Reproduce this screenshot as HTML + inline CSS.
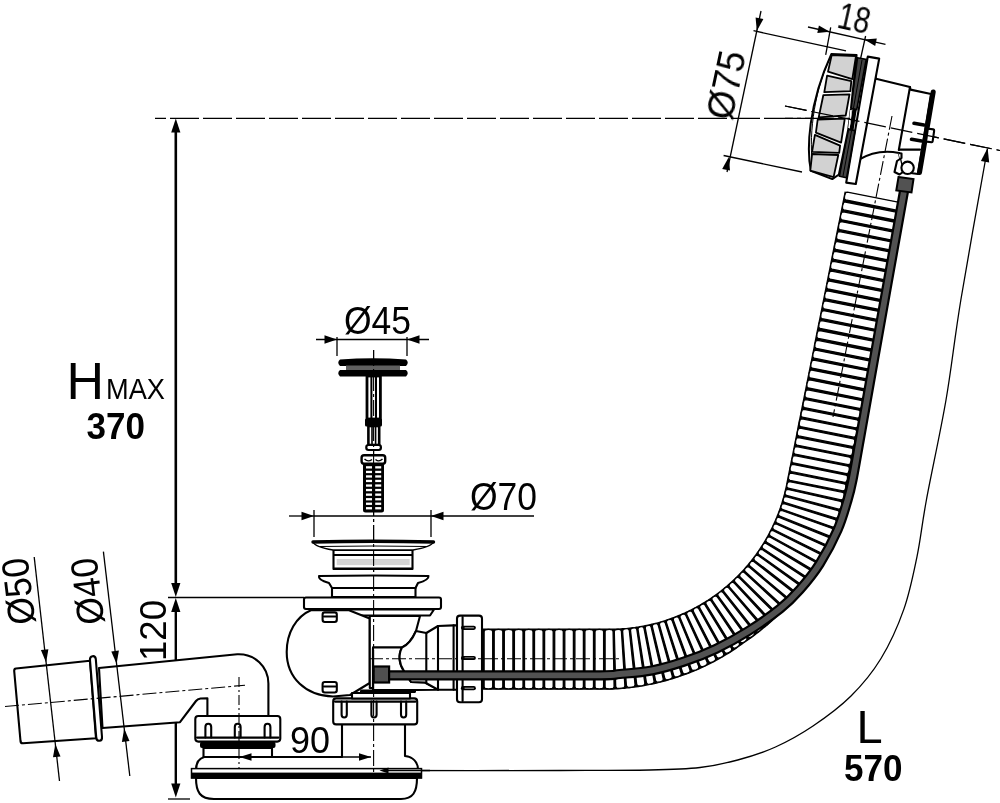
<!DOCTYPE html>
<html><head><meta charset="utf-8"><title>drawing</title>
<style>
html,body{margin:0;padding:0;background:#fff;}
body{width:1000px;height:803px;overflow:hidden;}
svg{display:block}
text{font-family:"Liberation Sans",sans-serif;fill:#000}
.t{stroke:#000;stroke-width:1.3;fill:none}
.m{stroke:#000;stroke-width:2.1;fill:none;stroke-linejoin:round;stroke-linecap:round}
.w{stroke:#000;stroke-width:2.1;fill:#fff;stroke-linejoin:round}
.k{stroke:#000;stroke-width:2.4;fill:none;stroke-linejoin:round;stroke-linecap:round}
</style></head><body>
<svg width="1000" height="803" viewBox="0 0 1000 803">
<rect width="1000" height="803" fill="#fff"/>

<g id="dims">
<line x1="175.8" y1="124" x2="175.8" y2="590" stroke="#000" stroke-width="2.6"/>
<polygon points="175.8,118.5 180.4,132.5 171.2,132.5" fill="#000"/>
<polygon points="175.8,597.0 171.2,583.0 180.4,583.0" fill="#000"/>
<line x1="175.8" y1="605" x2="175.8" y2="790" stroke="#000" stroke-width="2.4"/>
<polygon points="175.8,598.0 180.4,612.0 171.2,612.0" fill="#000"/>
<polygon points="175.8,797.5 171.2,783.5 180.4,783.5" fill="#000"/>
<line class="t" x1="168" y1="597.5" x2="304" y2="597.5"/>
<line class="t" x1="168" y1="799" x2="190" y2="799"/>
<line x1="155" y1="118.3" x2="850" y2="118.3" stroke="#000" stroke-width="1.2" stroke-dasharray="29 4" stroke-dashoffset="18"/>
<line x1="785" y1="106" x2="1000" y2="150.5" stroke="#000" stroke-width="1.2" stroke-dasharray="22 5"/>
<line class="t" x1="761" y1="11" x2="727" y2="172"/>
<polygon points="756.8,31.0 755.6,17.5 763.4,19.1" fill="#000"/>
<polygon points="728.8,157.0 730.0,170.5 722.2,168.9" fill="#000"/>
<line class="t" x1="753.5" y1="30.7" x2="846" y2="50.8"/>
<line class="t" x1="723.6" y1="155.5" x2="802" y2="172"/>
<line class="t" x1="808" y1="27" x2="885.5" y2="44.3"/>
<line class="t" x1="830.7" y1="27.4" x2="825.7" y2="54.8"/>
<line class="t" x1="865.6" y1="36" x2="860.6" y2="58.5"/>
<polygon points="829.8,31.8 817.3,32.9 818.9,25.5" fill="#000"/>
<polygon points="864.3,39.6 876.8,38.5 875.2,45.9" fill="#000"/>
<line class="t" x1="316" y1="339.5" x2="429" y2="339.5"/>
<line class="t" x1="337" y1="337" x2="337" y2="356"/><line class="t" x1="407" y1="337" x2="407" y2="356"/>
<polygon points="337.0,339.5 324.5,343.8 324.5,335.2" fill="#000"/>
<polygon points="407.0,339.5 419.5,335.2 419.5,343.8" fill="#000"/>
<line class="t" x1="289" y1="516" x2="314" y2="516"/><line class="t" x1="431" y1="516" x2="534" y2="516"/><line class="t" x1="314" y1="516" x2="431" y2="516"/>
<line class="t" x1="314" y1="510" x2="314" y2="537"/><line class="t" x1="431" y1="510" x2="431" y2="537"/>
<polygon points="314.0,516.0 301.5,520.3 301.5,511.7" fill="#000"/>
<polygon points="431.0,516.0 443.5,511.7 443.5,520.3" fill="#000"/>
<line x1="373.6" y1="350" x2="373.6" y2="776" stroke="#000" stroke-width="1.1" stroke-dasharray="16 3 3 3"/>
<path class="t" d="M987.4,149.0 C983.0,174.0 967.9,257.2 961.0,299.0 C954.1,340.8 951.8,366.5 946.0,400.0 C940.2,433.5 931.2,473.9 926.4,500.0 C921.6,526.1 920.8,538.4 917.0,556.6 C913.2,574.8 909.8,592.4 903.8,609.4 C897.8,626.4 889.8,644.1 881.0,658.5 C872.2,672.9 862.3,684.8 851.0,696.0 C839.7,707.2 825.6,717.5 813.0,726.0 C800.4,734.5 788.0,741.3 775.5,747.0 C763.0,752.7 750.3,756.6 737.7,760.0 C725.1,763.4 714.6,765.8 700.0,767.5 C685.4,769.2 673.3,769.5 650.0,770.0 C626.7,770.5 605.5,770.4 560.0,770.5 C514.5,770.6 407.5,770.5 377.0,770.5"/>
<polygon points="987.6,148.0 989.2,162.5 980.9,161.0" fill="#000"/>
</g>
<g id="pipe">
<path class="w" d="M16,668.5 Q14,668.7 14.2,671 L20.5,741 Q20.8,743.5 23,743.3 L96,738.3 L90,660.8 Z" stroke-width="2.2"/>
<path class="w" d="M99,668 L237.2,654.3 C254.5,653.5 268.4,666.5 268.4,683.5 L268.4,716 L207.4,716 L207.4,698.2 L200.5,698.5 Q197.5,699 196,701 L180,722.2 L102.5,728 Z" stroke-width="2.2"/>
<path class="w" d="M92.5,656.2 Q95.3,655.8 95.8,659 L102,737 Q102.3,740.5 99.5,740.8 Q96.7,741 96.3,738 L90,660 Q89.7,656.6 92.5,656.2 Z" stroke-width="1.8"/>
<line x1="5" y1="706.5" x2="245" y2="685.2" stroke="#000" stroke-width="1.1" stroke-dasharray="14 3 3 3"/>
</g>
<g id="base">
<path class="w" d="M196,778 C196,792 200,799 214,799 L401,799 C413,799 417,792 417,778 Z" stroke-width="1.8"/>
<path class="w" d="M196,770 C196,762 199,757 208,756.5 L272,756.5 L272,757 L342,757 L342,724 L405,724 L405,756 C413,757 418,762 418,770 Z"/>
<rect x="191.5" y="768.6" width="230" height="9.4" fill="#fff" stroke="#000" stroke-width="1.5"/>
<rect x="191" y="772.6" width="231" height="5.8" fill="#000"/>
<path class="w" d="M203.5,748 L272,748 L272,757 L203.5,757 Z"/>
<rect x="200" y="741.8" width="75.5" height="6.2" rx="2" fill="#000"/>
<rect class="w" x="195.3" y="716" width="85" height="25.6" rx="3" stroke-width="2.4"/>
<path class="m" d="M205.4,737.5 L205.4,727 Q205.4,723.8 208.3,723.8 Q211.20000000000002,723.8 211.20000000000002,727 L211.20000000000002,737.5"/>
<path class="m" d="M234.8,737.5 L234.8,727 Q234.8,723.8 237.70000000000002,723.8 Q240.60000000000002,723.8 240.60000000000002,727 L240.60000000000002,737.5"/>
<path class="m" d="M264.6,737.5 L264.6,727 Q264.6,723.8 267.5,723.8 Q270.40000000000003,723.8 270.40000000000003,727 L270.40000000000003,737.5"/>
<line class="m" x1="197" y1="737.6" x2="278.5" y2="737.6" stroke-width="1.6"/>
<rect class="w" x="333.2" y="698.4" width="84" height="26" rx="3" stroke-width="2.4"/>
<path class="m" d="M341.6,701.5 L341.6,714.5 Q341.6,717.5 344.20000000000005,717.5 Q346.8,717.5 346.8,714.5 L346.8,701.5"/>
<path class="m" d="M371.4,701.5 L371.4,714.5 Q371.4,717.5 374.0,717.5 Q376.59999999999997,717.5 376.59999999999997,714.5 L376.59999999999997,701.5"/>
<path class="m" d="M401,701.5 L401,714.5 Q401,717.5 403.6,717.5 Q406.2,717.5 406.2,714.5 L406.2,701.5"/>
<line class="m" x1="335" y1="701.6" x2="415.5" y2="701.6" stroke-width="1.6"/>
</g>
<g id="hose">
<polygon points="472.6,628.6 474.7,628.6 476.7,628.6 478.7,628.6 480.8,628.6 482.8,628.6 484.8,628.6 486.9,628.6 488.9,628.6 490.9,628.6 492.9,628.6 495.0,628.6 497.0,628.6 499.0,628.6 501.1,628.6 503.1,628.6 505.1,628.6 507.1,628.6 509.2,628.6 511.2,628.6 513.2,628.6 515.3,628.6 517.3,628.6 519.3,628.6 521.4,628.6 523.4,628.6 525.4,628.6 527.4,628.6 529.5,628.6 531.5,628.6 533.5,628.6 535.6,628.6 537.6,628.6 539.6,628.6 541.6,628.6 543.7,628.6 545.7,628.6 547.7,628.6 549.8,628.6 551.8,628.6 553.8,628.6 555.9,628.6 557.9,628.6 559.9,628.6 561.9,628.6 564.0,628.6 566.0,628.6 568.0,628.6 570.1,628.6 572.1,628.6 574.1,628.6 576.1,628.6 578.2,628.6 580.2,628.6 582.2,628.6 584.3,628.6 586.3,628.6 588.3,628.6 590.3,628.6 592.4,628.6 594.4,628.6 596.4,628.6 598.5,628.6 600.5,628.6 602.5,628.6 604.6,628.6 606.6,628.6 608.6,628.6 610.5,628.6 612.3,628.6 614.0,628.6 615.7,628.5 617.5,628.4 619.2,628.4 620.9,628.3 622.6,628.1 624.4,628.0 626.1,627.9 627.8,627.7 629.6,627.5 631.3,627.3 633.0,627.1 634.7,626.9 636.4,626.6 638.1,626.4 639.9,626.1 641.6,625.8 643.3,625.5 645.0,625.1 646.7,624.8 648.4,624.4 650.1,624.0 651.7,623.6 653.4,623.2 655.1,622.8 656.8,622.4 658.5,621.9 660.1,621.4 661.8,620.9 663.4,620.4 665.1,619.9 666.7,619.3 668.4,618.8 670.0,618.2 671.7,617.6 673.3,617.0 674.9,616.4 676.5,615.8 678.1,615.1 679.7,614.4 681.3,613.8 682.9,613.1 684.5,612.4 686.1,611.6 687.6,610.9 689.2,610.1 690.7,609.4 692.3,608.6 693.8,607.8 695.4,606.9 696.9,606.1 698.4,605.3 699.9,604.4 701.4,603.5 702.9,602.6 704.4,601.7 705.8,600.8 707.3,599.9 708.7,598.9 710.2,598.0 711.6,597.0 713.0,596.0 714.5,595.0 715.9,594.0 717.3,593.0 718.6,591.9 720.0,590.9 721.4,589.8 722.7,588.7 724.1,587.6 725.4,586.5 726.7,585.4 728.0,584.2 729.4,583.1 730.6,581.9 731.9,580.8 733.2,579.6 734.4,578.4 735.7,577.2 736.9,576.0 738.1,574.7 739.3,573.5 740.5,572.2 741.7,571.0 742.9,569.7 744.1,568.4 745.2,567.1 746.3,565.8 747.5,564.5 748.6,563.1 749.7,561.8 750.8,560.4 751.8,559.1 752.9,557.7 753.9,556.3 755.0,554.9 756.0,553.5 757.0,552.1 758.0,550.7 758.9,549.2 759.9,547.8 760.8,546.3 761.8,544.9 762.7,543.4 763.6,541.9 764.5,540.4 765.4,538.9 766.2,537.4 767.1,535.9 767.9,534.4 768.7,532.9 769.5,531.3 770.3,529.8 771.1,528.2 771.9,526.7 772.6,525.1 773.3,523.5 774.0,522.0 774.7,520.4 775.4,518.8 776.1,517.2 776.7,515.6 777.4,514.0 778.0,512.3 778.6,510.7 779.2,509.1 779.8,507.4 780.3,505.8 780.9,504.2 781.4,502.5 781.9,500.8 782.4,499.2 782.9,497.5 783.3,495.8 783.8,494.2 784.2,492.5 784.6,490.8 785.0,489.1 785.4,487.4 785.8,485.7 786.1,484.0 786.5,482.0 786.9,480.0 787.3,478.1 787.7,476.1 788.1,474.1 788.5,472.1 788.9,470.1 789.3,468.1 789.7,466.1 790.1,464.1 790.5,462.1 790.9,460.1 791.3,458.2 791.7,456.2 792.1,454.2 792.5,452.2 792.9,450.2 793.3,448.2 793.7,446.2 794.1,444.2 794.5,442.2 794.9,440.2 795.3,438.3 795.7,436.3 796.1,434.3 796.5,432.3 796.9,430.3 797.2,428.3 797.6,426.3 798.0,424.3 798.4,422.3 798.8,420.3 799.2,418.4 799.6,416.4 800.0,414.4 800.4,412.4 800.8,410.4 801.2,408.4 801.6,406.4 802.0,404.4 802.4,402.4 802.8,400.5 803.2,398.5 803.6,396.5 804.0,394.5 804.4,392.5 804.8,390.5 805.2,388.5 805.6,386.5 806.0,384.5 806.4,382.5 806.8,380.6 807.2,378.6 807.6,376.6 808.0,374.6 808.4,372.6 808.8,370.6 809.2,368.6 809.6,366.6 810.0,364.6 810.4,362.6 810.8,360.7 811.2,358.7 811.6,356.7 812.0,354.7 812.4,352.7 812.8,350.7 813.2,348.7 813.6,346.7 813.9,344.7 814.3,342.7 814.7,340.8 815.1,338.8 815.5,336.8 815.9,334.8 816.3,332.8 816.7,330.8 817.1,328.8 817.5,326.8 817.9,324.8 818.3,322.8 818.7,320.9 819.1,318.9 819.5,316.9 819.9,314.9 820.3,312.9 820.7,310.9 821.1,308.9 821.5,306.9 821.9,304.9 822.3,302.9 822.7,301.0 823.1,299.0 823.5,297.0 823.9,295.0 824.3,293.0 824.7,291.0 825.1,289.0 825.5,287.0 825.9,285.0 826.3,283.0 826.7,281.1 827.1,279.1 827.5,277.1 827.9,275.1 828.3,273.1 828.7,271.1 829.1,269.1 829.5,267.1 829.9,265.1 830.3,263.1 830.6,261.2 831.0,259.2 831.4,257.2 831.8,255.2 832.2,253.2 832.6,251.2 833.0,249.2 833.4,247.2 833.8,245.2 834.2,243.2 834.6,241.3 835.0,239.3 835.4,237.3 835.8,235.3 836.2,233.3 836.6,231.3 837.0,229.3 837.4,227.3 837.8,225.3 838.2,223.3 838.6,221.4 839.0,219.4 839.4,217.4 839.8,215.4 840.2,213.4 840.6,211.4 841.0,209.4 841.4,207.4 841.8,205.4 842.2,203.4 842.6,201.5 843.0,199.5 843.4,197.5 843.8,195.5 844.2,193.5 844.6,191.5 903.4,203.3 903.0,205.3 902.6,207.2 902.2,209.2 901.8,211.2 901.4,213.2 901.0,215.2 900.6,217.2 900.2,219.2 899.8,221.2 899.4,223.2 899.0,225.2 898.6,227.1 898.2,229.1 897.8,231.1 897.4,233.1 897.0,235.1 896.6,237.1 896.2,239.1 895.8,241.1 895.5,243.1 895.1,245.1 894.7,247.0 894.3,249.0 893.9,251.0 893.5,253.0 893.1,255.0 892.7,257.0 892.3,259.0 891.9,261.0 891.5,263.0 891.1,264.9 890.7,266.9 890.3,268.9 889.9,270.9 889.5,272.9 889.1,274.9 888.7,276.9 888.3,278.9 887.9,280.9 887.5,282.9 887.1,284.8 886.7,286.8 886.3,288.8 885.9,290.8 885.5,292.8 885.1,294.8 884.7,296.8 884.3,298.8 883.9,300.8 883.5,302.8 883.1,304.7 882.7,306.7 882.3,308.7 881.9,310.7 881.5,312.7 881.1,314.7 880.7,316.7 880.3,318.7 879.9,320.7 879.5,322.7 879.1,324.6 878.8,326.6 878.4,328.6 878.0,330.6 877.6,332.6 877.2,334.6 876.8,336.6 876.4,338.6 876.0,340.6 875.6,342.6 875.2,344.5 874.8,346.5 874.4,348.5 874.0,350.5 873.6,352.5 873.2,354.5 872.8,356.5 872.4,358.5 872.0,360.5 871.6,362.5 871.2,364.4 870.8,366.4 870.4,368.4 870.0,370.4 869.6,372.4 869.2,374.4 868.8,376.4 868.4,378.4 868.0,380.4 867.6,382.4 867.2,384.3 866.8,386.3 866.4,388.3 866.0,390.3 865.6,392.3 865.2,394.3 864.8,396.3 864.4,398.3 864.0,400.3 863.6,402.3 863.2,404.2 862.8,406.2 862.4,408.2 862.1,410.2 861.7,412.2 861.3,414.2 860.9,416.2 860.5,418.2 860.1,420.2 859.7,422.2 859.3,424.1 858.9,426.1 858.5,428.1 858.1,430.1 857.7,432.1 857.3,434.1 856.9,436.1 856.5,438.1 856.1,440.1 855.7,442.1 855.3,444.0 854.9,446.0 854.5,448.0 854.1,450.0 853.7,452.0 853.3,454.0 852.9,456.0 852.5,458.0 852.1,460.0 851.7,462.0 851.3,463.9 850.9,465.9 850.5,467.9 850.1,469.9 849.7,471.9 849.3,473.9 848.9,475.9 848.5,477.9 848.1,479.9 847.7,481.9 847.3,483.8 846.9,485.8 846.5,487.8 846.1,489.8 845.7,491.8 845.3,493.8 845.0,495.8 844.4,498.0 843.9,500.3 843.4,502.5 842.8,504.8 842.2,507.0 841.6,509.2 840.9,511.5 840.3,513.7 839.6,515.9 838.9,518.1 838.2,520.3 837.4,522.5 836.7,524.6 835.9,526.8 835.1,529.0 834.3,531.1 833.4,533.3 832.6,535.4 831.7,537.5 830.8,539.7 829.8,541.8 828.9,543.9 827.9,546.0 826.9,548.0 825.9,550.1 824.9,552.2 823.9,554.2 822.8,556.3 821.7,558.3 820.6,560.3 819.5,562.3 818.3,564.3 817.2,566.3 816.0,568.3 814.8,570.2 813.6,572.2 812.3,574.1 811.1,576.0 809.8,577.9 808.5,579.8 807.2,581.7 805.9,583.6 804.5,585.5 803.2,587.3 801.8,589.1 800.4,591.0 799.0,592.8 797.5,594.6 796.1,596.3 794.6,598.1 793.1,599.8 791.6,601.6 790.1,603.3 788.6,605.0 787.0,606.7 785.5,608.4 783.9,610.0 782.3,611.7 780.7,613.3 779.1,614.9 777.4,616.5 775.8,618.1 774.1,619.6 772.4,621.2 770.7,622.7 769.0,624.2 767.3,625.7 765.5,627.2 763.8,628.6 762.0,630.1 760.2,631.5 758.4,632.9 756.6,634.3 754.8,635.7 753.0,637.0 751.1,638.4 749.2,639.7 747.4,641.0 745.5,642.3 743.7,643.6 741.8,645.0 739.9,646.3 738.1,647.6 736.2,648.9 734.3,650.2 732.4,651.4 730.5,652.7 728.5,653.9 726.6,655.1 724.6,656.3 722.7,657.4 720.7,658.6 718.7,659.7 716.7,660.8 714.7,661.9 712.6,662.9 710.6,664.0 708.5,665.0 706.5,666.0 704.4,667.0 702.3,668.0 700.2,668.9 698.1,669.9 696.0,670.8 693.9,671.7 691.8,672.6 689.6,673.4 687.5,674.2 685.3,675.0 683.2,675.8 681.0,676.6 678.8,677.3 676.6,678.1 674.5,678.8 672.3,679.5 670.0,680.1 667.8,680.8 665.6,681.4 663.4,682.0 661.1,682.6 658.9,683.1 656.7,683.7 654.4,684.2 652.1,684.7 649.9,685.1 647.6,685.6 645.3,686.0 643.0,686.4 640.8,686.8 638.5,687.2 636.2,687.5 633.9,687.8 631.6,688.1 629.3,688.4 627.0,688.6 624.7,688.9 622.4,689.1 620.0,689.3 617.7,689.4 615.4,689.6 613.1,689.7 610.8,689.8 608.6,689.8 606.6,689.8 604.6,689.8 602.5,689.8 600.5,689.8 598.5,689.8 596.4,689.8 594.4,689.8 592.4,689.8 590.3,689.8 588.3,689.8 586.3,689.8 584.3,689.8 582.2,689.8 580.2,689.8 578.2,689.8 576.1,689.8 574.1,689.8 572.1,689.8 570.1,689.8 568.0,689.8 566.0,689.8 564.0,689.8 561.9,689.8 559.9,689.8 557.9,689.8 555.9,689.8 553.8,689.8 551.8,689.8 549.8,689.8 547.7,689.8 545.7,689.8 543.7,689.8 541.6,689.8 539.6,689.8 537.6,689.8 535.6,689.8 533.5,689.8 531.5,689.8 529.5,689.8 527.4,689.8 525.4,689.8 523.4,689.8 521.4,689.8 519.3,689.8 517.3,689.8 515.3,689.8 513.2,689.8 511.2,689.8 509.2,689.8 507.1,689.8 505.1,689.8 503.1,689.8 501.1,689.8 499.0,689.8 497.0,689.8 495.0,689.8 492.9,689.8 490.9,689.8 488.9,689.8 486.9,689.8 484.8,689.8 482.8,689.8 480.8,689.8 478.7,689.8 476.7,689.8 474.7,689.8 472.6,689.8" fill="#000"/>
<path d="M474.1,631.5 L475.0,629.9 Q478.4,629.0 481.7,629.9 L482.6,631.5 L482.6,686.9 L481.7,688.5 Q478.4,689.4 475.0,688.5 L474.1,686.9 Z" fill="#fff" stroke="#000" stroke-width="1.3" stroke-linejoin="round"/>
<path d="M484.1,631.5 L485.0,629.9 Q488.4,629.0 491.8,629.9 L492.7,631.5 L492.7,686.9 L491.8,688.5 Q488.4,689.4 485.0,688.5 L484.1,686.9 Z" fill="#fff" stroke="#000" stroke-width="1.3" stroke-linejoin="round"/>
<path d="M494.2,631.5 L495.1,629.9 Q498.5,629.0 501.9,629.9 L502.8,631.5 L502.8,686.9 L501.9,688.5 Q498.5,689.4 495.1,688.5 L494.2,686.9 Z" fill="#fff" stroke="#000" stroke-width="1.3" stroke-linejoin="round"/>
<path d="M504.3,631.5 L505.2,629.9 Q508.6,629.0 512.0,629.9 L512.9,631.5 L512.9,686.9 L512.0,688.5 Q508.6,689.4 505.2,688.5 L504.3,686.9 Z" fill="#fff" stroke="#000" stroke-width="1.3" stroke-linejoin="round"/>
<path d="M514.4,631.5 L515.3,629.9 Q518.7,629.0 522.1,629.9 L523.0,631.5 L523.0,686.9 L522.1,688.5 Q518.7,689.4 515.3,688.5 L514.4,686.9 Z" fill="#fff" stroke="#000" stroke-width="1.3" stroke-linejoin="round"/>
<path d="M524.5,631.5 L525.4,629.9 Q528.8,629.0 532.1,629.9 L533.0,631.5 L533.0,686.9 L532.1,688.5 Q528.8,689.4 525.4,688.5 L524.5,686.9 Z" fill="#fff" stroke="#000" stroke-width="1.3" stroke-linejoin="round"/>
<path d="M534.5,631.5 L535.4,629.9 Q538.8,629.0 542.2,629.9 L543.1,631.5 L543.1,686.9 L542.2,688.5 Q538.8,689.4 535.4,688.5 L534.5,686.9 Z" fill="#fff" stroke="#000" stroke-width="1.3" stroke-linejoin="round"/>
<path d="M544.6,631.5 L545.5,629.9 Q548.9,629.0 552.3,629.9 L553.2,631.5 L553.2,686.9 L552.3,688.5 Q548.9,689.4 545.5,688.5 L544.6,686.9 Z" fill="#fff" stroke="#000" stroke-width="1.3" stroke-linejoin="round"/>
<path d="M554.7,631.5 L555.6,629.9 Q559.0,629.0 562.4,629.9 L563.3,631.5 L563.3,686.9 L562.4,688.5 Q559.0,689.4 555.6,688.5 L554.7,686.9 Z" fill="#fff" stroke="#000" stroke-width="1.3" stroke-linejoin="round"/>
<path d="M564.8,631.5 L565.7,629.9 Q569.1,629.0 572.5,629.9 L573.4,631.5 L573.4,686.9 L572.5,688.5 Q569.1,689.4 565.7,688.5 L564.8,686.9 Z" fill="#fff" stroke="#000" stroke-width="1.3" stroke-linejoin="round"/>
<path d="M574.9,631.5 L575.8,629.9 Q579.2,629.0 582.5,629.9 L583.4,631.5 L583.4,686.9 L582.5,688.5 Q579.2,689.4 575.8,688.5 L574.9,686.9 Z" fill="#fff" stroke="#000" stroke-width="1.3" stroke-linejoin="round"/>
<path d="M584.9,631.5 L585.8,629.9 Q589.2,629.0 592.6,629.9 L593.5,631.5 L593.5,686.9 L592.6,688.5 Q589.2,689.4 585.8,688.5 L584.9,686.9 Z" fill="#fff" stroke="#000" stroke-width="1.3" stroke-linejoin="round"/>
<path d="M595.0,631.5 L595.9,629.9 Q599.3,629.0 602.7,629.9 L603.6,631.5 L603.6,686.9 L602.7,688.5 Q599.3,689.4 595.9,688.5 L595.0,686.9 Z" fill="#fff" stroke="#000" stroke-width="1.3" stroke-linejoin="round"/>
<path d="M605.1,631.5 L606.0,629.9 Q609.4,629.0 612.3,629.9 L613.1,631.5 L614.1,686.9 L613.1,688.5 Q609.4,689.4 606.0,688.5 L605.1,686.9 Z" fill="#fff" stroke="#000" stroke-width="1.3" stroke-linejoin="round"/>
<path d="M614.3,631.4 L615.1,629.8 Q617.8,628.8 620.5,629.6 L621.4,631.1 L624.9,686.1 L624.0,687.7 Q620.4,688.8 616.7,688.1 L615.7,686.5 Z" fill="#fff" stroke="#000" stroke-width="1.3" stroke-linejoin="round"/>
<path d="M622.6,631.1 L623.3,629.4 Q625.7,628.3 628.4,628.9 L629.3,630.5 L635.1,684.9 L634.3,686.6 Q631.0,687.8 627.6,687.2 L626.4,685.6 Z" fill="#fff" stroke="#000" stroke-width="1.3" stroke-linejoin="round"/>
<path d="M630.5,630.3 L631.1,628.6 Q633.3,627.5 635.8,628.0 L636.8,629.5 L644.9,683.3 L644.1,685.0 Q641.1,686.3 637.9,685.8 L636.7,684.4 Z" fill="#fff" stroke="#000" stroke-width="1.3" stroke-linejoin="round"/>
<path d="M638.0,629.3 L638.5,627.6 Q640.6,626.3 643.0,626.8 L644.0,628.3 L654.1,681.4 L653.4,683.2 Q650.7,684.6 647.6,684.2 L646.4,682.7 Z" fill="#fff" stroke="#000" stroke-width="1.3" stroke-linejoin="round"/>
<path d="M645.2,628.0 L645.7,626.3 Q647.7,625.0 650.0,625.4 L651.1,626.8 L663.3,679.1 L662.7,680.9 Q660.0,682.4 656.9,682.2 L655.6,680.8 Z" fill="#fff" stroke="#000" stroke-width="1.3" stroke-linejoin="round"/>
<path d="M652.3,626.5 L652.7,624.7 Q654.7,623.3 657.0,623.6 L658.2,625.0 L672.4,676.5 L671.8,678.3 Q669.2,680.0 666.1,679.8 L664.8,678.5 Z" fill="#fff" stroke="#000" stroke-width="1.3" stroke-linejoin="round"/>
<path d="M659.4,624.6 L659.7,622.9 Q661.6,621.4 664.0,621.6 L665.2,622.9 L681.3,673.5 L680.8,675.4 Q678.3,677.1 675.2,677.1 L673.8,675.8 Z" fill="#fff" stroke="#000" stroke-width="1.3" stroke-linejoin="round"/>
<path d="M666.4,622.5 L666.6,620.8 Q668.4,619.2 670.8,619.3 L672.1,620.5 L690.1,670.2 L689.7,672.1 Q687.3,673.9 684.2,674.0 L682.7,672.8 Z" fill="#fff" stroke="#000" stroke-width="1.3" stroke-linejoin="round"/>
<path d="M673.3,620.1 L673.4,618.4 Q675.2,616.7 677.6,616.7 L678.9,617.9 L698.8,666.6 L698.5,668.4 Q696.1,670.3 693.0,670.5 L691.5,669.4 Z" fill="#fff" stroke="#000" stroke-width="1.3" stroke-linejoin="round"/>
<path d="M680.0,617.5 L680.1,615.7 Q681.8,614.0 684.2,613.9 L685.6,615.0 L707.3,662.6 L707.0,664.4 Q704.7,666.4 701.7,666.8 L700.1,665.7 Z" fill="#fff" stroke="#000" stroke-width="1.3" stroke-linejoin="round"/>
<path d="M686.7,614.5 L686.7,612.7 Q688.4,611.0 690.8,610.8 L692.2,611.9 L715.6,658.2 L715.4,660.1 Q713.2,662.2 710.2,662.6 L708.6,661.6 Z" fill="#fff" stroke="#000" stroke-width="1.3" stroke-linejoin="round"/>
<path d="M693.3,611.3 L693.2,609.5 Q694.8,607.7 697.2,607.4 L698.6,608.4 L723.7,653.6 L723.6,655.4 Q721.5,657.6 718.5,658.2 L716.9,657.2 Z" fill="#fff" stroke="#000" stroke-width="1.3" stroke-linejoin="round"/>
<path d="M699.7,607.9 L699.6,606.1 Q701.1,604.2 703.4,603.8 L704.9,604.8 L731.7,648.6 L731.6,650.5 Q729.6,652.7 726.6,653.4 L724.9,652.5 Z" fill="#fff" stroke="#000" stroke-width="1.3" stroke-linejoin="round"/>
<path d="M706.0,604.1 L705.8,602.4 Q707.2,600.4 709.6,600.0 L711.1,600.9 L739.4,643.3 L739.4,645.2 Q737.5,647.5 734.5,648.3 L732.8,647.5 Z" fill="#fff" stroke="#000" stroke-width="1.3" stroke-linejoin="round"/>
<path d="M712.1,600.2 L711.8,598.4 Q713.2,596.4 715.5,595.8 L717.1,596.7 L746.8,637.7 L747.0,639.6 Q745.1,642.0 742.2,642.9 L740.5,642.2 Z" fill="#fff" stroke="#000" stroke-width="1.3" stroke-linejoin="round"/>
<path d="M718.1,596.0 L717.7,594.2 Q719.0,592.2 721.3,591.5 L722.9,592.3 L754.4,632.3 L754.6,634.1 Q752.8,636.6 750.0,637.7 L748.2,637.0 Z" fill="#fff" stroke="#000" stroke-width="1.3" stroke-linejoin="round"/>
<path d="M723.8,591.5 L723.4,589.8 Q724.6,587.7 726.9,586.9 L728.5,587.7 L761.7,626.5 L762.0,628.3 Q760.3,630.9 757.5,632.1 L755.7,631.4 Z" fill="#fff" stroke="#000" stroke-width="1.3" stroke-linejoin="round"/>
<path d="M729.4,586.9 L729.0,585.2 Q730.1,583.0 732.3,582.2 L734.0,582.8 L768.8,620.4 L769.2,622.3 Q767.6,624.9 764.8,626.1 L763.0,625.6 Z" fill="#fff" stroke="#000" stroke-width="1.3" stroke-linejoin="round"/>
<path d="M734.9,582.0 L734.3,580.3 Q735.3,578.1 737.5,577.2 L739.2,577.8 L775.7,614.1 L776.1,615.9 Q774.6,618.6 771.9,620.0 L770.1,619.5 Z" fill="#fff" stroke="#000" stroke-width="1.3" stroke-linejoin="round"/>
<path d="M740.1,576.9 L739.5,575.2 Q740.4,573.0 742.6,572.0 L744.3,572.5 L782.3,607.4 L782.8,609.2 Q781.4,612.0 778.7,613.5 L776.9,613.1 Z" fill="#fff" stroke="#000" stroke-width="1.3" stroke-linejoin="round"/>
<path d="M745.1,571.6 L744.4,569.9 Q745.2,567.7 747.4,566.6 L749.1,567.0 L788.6,600.5 L789.2,602.3 Q787.9,605.1 785.3,606.7 L783.4,606.4 Z" fill="#fff" stroke="#000" stroke-width="1.3" stroke-linejoin="round"/>
<path d="M749.9,566.1 L749.2,564.5 Q749.9,562.2 752.0,561.0 L753.7,561.4 L794.7,593.4 L795.3,595.2 Q794.2,598.0 791.6,599.7 L789.7,599.5 Z" fill="#fff" stroke="#000" stroke-width="1.3" stroke-linejoin="round"/>
<path d="M754.5,560.4 L753.7,558.8 Q754.3,556.5 756.3,555.2 L758.1,555.5 L800.4,586.0 L801.1,587.8 Q800.1,590.6 797.6,592.4 L795.8,592.3 Z" fill="#fff" stroke="#000" stroke-width="1.3" stroke-linejoin="round"/>
<path d="M758.8,554.5 L757.9,553.0 Q758.5,550.6 760.5,549.3 L762.2,549.5 L805.9,578.4 L806.7,580.1 Q805.8,583.0 803.4,584.9 L801.5,584.8 Z" fill="#fff" stroke="#000" stroke-width="1.3" stroke-linejoin="round"/>
<path d="M762.9,548.5 L762.0,547.0 Q762.4,544.6 764.4,543.2 L766.1,543.4 L811.1,570.6 L811.9,572.2 Q811.1,575.2 808.8,577.2 L806.9,577.2 Z" fill="#fff" stroke="#000" stroke-width="1.3" stroke-linejoin="round"/>
<path d="M766.8,542.3 L765.8,540.8 Q766.1,538.5 768.0,537.0 L769.8,537.0 L815.9,562.5 L816.8,564.2 Q816.2,567.2 813.9,569.3 L812.0,569.3 Z" fill="#fff" stroke="#000" stroke-width="1.3" stroke-linejoin="round"/>
<path d="M770.4,536.0 L769.3,534.5 Q769.6,532.1 771.4,530.6 L773.2,530.6 L820.5,554.3 L821.4,555.9 Q820.9,558.9 818.7,561.1 L816.8,561.2 Z" fill="#fff" stroke="#000" stroke-width="1.3" stroke-linejoin="round"/>
<path d="M773.7,529.5 L772.6,528.1 Q772.8,525.7 774.5,524.1 L776.3,524.0 L824.7,545.9 L825.7,547.4 Q825.3,550.5 823.2,552.7 L821.3,553.0 Z" fill="#fff" stroke="#000" stroke-width="1.3" stroke-linejoin="round"/>
<path d="M776.8,522.9 L775.7,521.5 Q775.7,519.1 777.4,517.4 L779.2,517.3 L828.6,537.3 L829.7,538.8 Q829.4,541.9 827.4,544.2 L825.5,544.5 Z" fill="#fff" stroke="#000" stroke-width="1.3" stroke-linejoin="round"/>
<path d="M779.6,516.2 L778.4,514.9 Q778.4,512.5 780.0,510.7 L781.8,510.5 L832.1,528.5 L833.2,530.0 Q833.1,533.1 831.2,535.5 L829.3,535.9 Z" fill="#fff" stroke="#000" stroke-width="1.3" stroke-linejoin="round"/>
<path d="M782.2,509.3 L780.9,508.1 Q780.8,505.7 782.3,503.8 L784.1,503.6 L835.3,519.7 L836.5,521.1 Q836.4,524.2 834.6,526.7 L832.8,527.1 Z" fill="#fff" stroke="#000" stroke-width="1.3" stroke-linejoin="round"/>
<path d="M784.5,502.4 L783.2,501.2 Q782.9,498.8 784.4,496.9 L786.1,496.6 L838.1,510.6 L839.4,512.0 Q839.4,515.1 837.7,517.7 L835.9,518.2 Z" fill="#fff" stroke="#000" stroke-width="1.3" stroke-linejoin="round"/>
<path d="M786.5,495.4 L785.1,494.2 Q784.8,491.8 786.2,489.8 L787.9,489.4 L840.6,501.4 L841.9,502.8 Q842.1,505.9 840.5,508.6 L838.7,509.2 Z" fill="#fff" stroke="#000" stroke-width="1.3" stroke-linejoin="round"/>
<path d="M788.2,488.2 L786.8,487.1 Q786.4,484.7 787.8,482.3 L789.5,481.7 L842.7,492.3 L844.1,493.5 Q844.4,496.5 842.9,499.3 L841.1,499.9 Z" fill="#fff" stroke="#000" stroke-width="1.3" stroke-linejoin="round"/>
<path d="M789.8,480.3 L788.4,479.1 Q788.1,476.2 789.5,473.7 L791.2,473.1 L844.4,483.8 L845.8,485.0 Q846.1,487.8 844.7,490.4 L843.0,490.9 Z" fill="#fff" stroke="#000" stroke-width="1.3" stroke-linejoin="round"/>
<path d="M791.5,471.7 L790.1,470.5 Q789.8,467.6 791.2,465.0 L793.0,464.4 L846.1,475.0 L847.5,476.2 Q847.9,479.2 846.4,481.8 L844.7,482.3 Z" fill="#fff" stroke="#000" stroke-width="1.3" stroke-linejoin="round"/>
<path d="M793.3,463.0 L791.9,461.8 Q791.6,458.8 793.0,456.1 L794.8,455.6 L847.9,466.2 L849.3,467.4 Q849.6,470.4 848.2,473.0 L846.4,473.6 Z" fill="#fff" stroke="#000" stroke-width="1.3" stroke-linejoin="round"/>
<path d="M795.1,454.1 L793.7,452.9 Q793.4,449.8 794.8,447.2 L796.6,446.6 L849.7,457.2 L851.1,458.4 Q851.4,461.4 850.0,464.1 L848.2,464.7 Z" fill="#fff" stroke="#000" stroke-width="1.3" stroke-linejoin="round"/>
<path d="M796.9,445.1 L795.5,443.9 Q795.2,440.8 796.6,438.0 L798.4,437.5 L851.5,448.1 L852.9,449.3 Q853.2,452.4 851.8,455.1 L850.0,455.7 Z" fill="#fff" stroke="#000" stroke-width="1.3" stroke-linejoin="round"/>
<path d="M798.7,435.9 L797.3,434.7 Q797.0,431.6 798.5,428.8 L800.2,428.2 L853.4,438.8 L854.8,440.0 Q855.1,443.2 853.6,445.9 L851.8,446.5 Z" fill="#fff" stroke="#000" stroke-width="1.3" stroke-linejoin="round"/>
<path d="M800.5,426.6 L799.2,425.4 Q798.9,422.2 800.4,419.4 L802.1,418.8 L855.3,429.4 L856.6,430.6 Q856.9,433.8 855.4,436.6 L853.7,437.2 Z" fill="#fff" stroke="#000" stroke-width="1.3" stroke-linejoin="round"/>
<path d="M802.4,417.2 L801.0,416.0 Q800.8,412.7 802.3,409.9 L804.0,409.3 L857.2,419.9 L858.5,421.1 Q858.8,424.3 857.3,427.2 L855.6,427.8 Z" fill="#fff" stroke="#000" stroke-width="1.3" stroke-linejoin="round"/>
<path d="M804.4,407.6 L803.0,406.4 Q802.7,403.1 804.2,400.2 L805.9,399.6 L859.1,410.2 L860.5,411.4 Q860.7,414.7 859.2,417.6 L857.5,418.2 Z" fill="#fff" stroke="#000" stroke-width="1.3" stroke-linejoin="round"/>
<path d="M806.3,397.8 L804.9,396.6 Q804.7,393.3 806.2,390.3 L807.9,389.8 L861.1,400.4 L862.5,401.6 Q862.7,404.9 861.2,407.9 L859.4,408.5 Z" fill="#fff" stroke="#000" stroke-width="1.3" stroke-linejoin="round"/>
<path d="M808.3,388.0 L806.9,386.8 Q806.6,383.4 808.1,380.4 L809.9,379.9 L863.0,390.5 L864.4,391.7 Q864.7,395.0 863.2,398.0 L861.4,398.6 Z" fill="#fff" stroke="#000" stroke-width="1.3" stroke-linejoin="round"/>
<path d="M810.3,378.0 L808.9,376.8 Q808.6,373.5 810.1,370.6 L811.9,370.0 L865.0,380.6 L866.4,381.8 Q866.7,385.1 865.1,388.1 L863.4,388.6 Z" fill="#fff" stroke="#000" stroke-width="1.3" stroke-linejoin="round"/>
<path d="M812.2,368.1 L810.8,366.9 Q810.6,363.6 812.1,360.7 L813.8,360.1 L867.0,370.7 L868.4,371.9 Q868.6,375.2 867.1,378.1 L865.4,378.7 Z" fill="#fff" stroke="#000" stroke-width="1.3" stroke-linejoin="round"/>
<path d="M814.2,358.2 L812.8,357.0 Q812.6,353.7 814.1,350.8 L815.8,350.2 L869.0,360.8 L870.4,362.0 Q870.6,365.3 869.1,368.2 L867.4,368.8 Z" fill="#fff" stroke="#000" stroke-width="1.3" stroke-linejoin="round"/>
<path d="M816.2,348.3 L814.8,347.1 Q814.5,343.8 816.0,340.9 L817.8,340.3 L870.9,351.0 L872.3,352.2 Q872.6,355.4 871.1,358.4 L869.3,358.9 Z" fill="#fff" stroke="#000" stroke-width="1.3" stroke-linejoin="round"/>
<path d="M818.2,338.4 L816.8,337.2 Q816.5,334.0 818.0,331.0 L819.8,330.5 L872.9,341.1 L874.3,342.3 Q874.6,345.6 873.1,348.5 L871.3,349.0 Z" fill="#fff" stroke="#000" stroke-width="1.3" stroke-linejoin="round"/>
<path d="M820.1,328.5 L818.7,327.3 Q818.5,324.1 820.0,321.1 L821.7,320.6 L874.9,331.2 L876.3,332.4 Q876.5,335.7 875.0,338.6 L873.3,339.2 Z" fill="#fff" stroke="#000" stroke-width="1.3" stroke-linejoin="round"/>
<path d="M822.1,318.7 L820.7,317.5 Q820.5,314.2 822.0,311.3 L823.7,310.7 L876.9,321.3 L878.3,322.5 Q878.5,325.8 877.0,328.7 L875.3,329.3 Z" fill="#fff" stroke="#000" stroke-width="1.3" stroke-linejoin="round"/>
<path d="M824.1,308.8 L822.7,307.6 Q822.4,304.3 823.9,301.4 L825.7,300.8 L878.8,311.4 L880.2,312.6 Q880.5,315.9 879.0,318.8 L877.2,319.4 Z" fill="#fff" stroke="#000" stroke-width="1.3" stroke-linejoin="round"/>
<path d="M826.1,298.9 L824.7,297.7 Q824.4,294.4 825.9,291.5 L827.7,290.9 L880.8,301.5 L882.2,302.7 Q882.5,306.0 881.0,308.9 L879.2,309.5 Z" fill="#fff" stroke="#000" stroke-width="1.3" stroke-linejoin="round"/>
<path d="M828.0,289.0 L826.6,287.8 Q826.4,284.5 827.9,281.6 L829.6,281.0 L882.8,291.7 L884.2,292.8 Q884.4,296.1 882.9,299.1 L881.2,299.6 Z" fill="#fff" stroke="#000" stroke-width="1.3" stroke-linejoin="round"/>
<path d="M830.0,279.1 L828.6,277.9 Q828.4,274.6 829.9,271.7 L831.6,271.1 L884.8,281.8 L886.2,283.0 Q886.4,286.2 884.9,289.2 L883.2,289.7 Z" fill="#fff" stroke="#000" stroke-width="1.3" stroke-linejoin="round"/>
<path d="M832.0,269.2 L830.6,268.0 Q830.3,264.8 831.8,261.8 L833.6,261.3 L886.7,271.9 L888.1,273.1 Q888.4,276.4 886.9,279.3 L885.1,279.9 Z" fill="#fff" stroke="#000" stroke-width="1.3" stroke-linejoin="round"/>
<path d="M834.0,259.4 L832.6,258.2 Q832.3,254.9 833.8,251.9 L835.6,251.4 L888.7,262.0 L890.1,263.2 Q890.4,266.5 888.9,269.4 L887.1,270.0 Z" fill="#fff" stroke="#000" stroke-width="1.3" stroke-linejoin="round"/>
<path d="M835.9,249.5 L834.5,248.3 Q834.3,245.0 835.8,242.1 L837.5,241.5 L890.7,252.1 L892.1,253.3 Q892.3,256.6 890.8,259.5 L889.1,260.1 Z" fill="#fff" stroke="#000" stroke-width="1.3" stroke-linejoin="round"/>
<path d="M837.9,239.6 L836.5,238.4 Q836.3,235.1 837.8,232.2 L839.5,231.6 L892.7,242.2 L894.1,243.4 Q894.3,246.7 892.8,249.6 L891.1,250.2 Z" fill="#fff" stroke="#000" stroke-width="1.3" stroke-linejoin="round"/>
<path d="M839.9,229.7 L838.5,228.5 Q838.2,225.2 839.7,222.3 L841.5,221.7 L894.6,232.3 L896.0,233.5 Q896.3,236.8 894.8,239.7 L893.0,240.3 Z" fill="#fff" stroke="#000" stroke-width="1.3" stroke-linejoin="round"/>
<path d="M841.9,219.8 L840.5,218.6 Q840.2,215.3 841.7,212.4 L843.5,211.8 L896.6,222.5 L898.0,223.7 Q898.3,226.9 896.8,229.9 L895.0,230.4 Z" fill="#fff" stroke="#000" stroke-width="1.3" stroke-linejoin="round"/>
<path d="M843.8,209.9 L842.5,208.7 Q842.2,205.5 843.7,202.5 L845.4,202.0 L898.6,212.6 L900.0,213.8 Q900.2,217.1 898.7,220.0 L897.0,220.5 Z" fill="#fff" stroke="#000" stroke-width="1.3" stroke-linejoin="round"/>
<path d="M845.8,200.0 L844.4,198.8 Q844.2,195.6 845.7,192.6 L847.4,192.1 L900.6,202.7 L902.0,203.9 Q902.2,207.2 900.7,210.1 L899.0,210.7 Z" fill="#fff" stroke="#000" stroke-width="1.3" stroke-linejoin="round"/>
</g>
<g id="body">
<path class="w" d="M340,609.5 L434,609.5 L430,615.5 L342,615.5 Z"/>
<path class="w" d="M311.4,610 C296,616.5 286.7,633 286.7,652 C286.7,678 306,696 333,696.5 L350,695 L369.7,683 L369.7,618.4 L349,610.2 Z"/>
<rect class="w" x="322.6" y="612.4" width="14.2" height="9.6" rx="2.2"/><line class="m" x1="324" y1="616.5" x2="335.5" y2="616.5" stroke-width="1.4"/>
<rect class="w" x="322.6" y="682" width="14.2" height="10.5" rx="2.2"/><line class="m" x1="324" y1="686.5" x2="335.5" y2="686.5" stroke-width="1.4"/>
<path class="w" d="M369.8,616 L420,616 L416,631 C412,640 408,645 402,647.5 L373,647.5 L373,688 L369.8,688 Z"/>
<path class="w" d="M373,647.5 L402,647.5 C398,655 399,664 404,671 L411,682 L425,682.5 L438,689.7 L416,690 L373,690 Z"/>
<path class="w" d="M416,631 L426.3,633 L438,626 L453.6,625.4 L457,625.4 L457,689.7 L438,689.7 L425,682.5 L411,682 L404,671 C399,664 398,655 402,647.5 C408,645 412,640 416,631 Z"/>
<line class="m" x1="426.3" y1="633" x2="426.3" y2="682.5"/><line class="m" x1="438" y1="626" x2="438" y2="689.7"/><line class="m" x1="453.6" y1="625.4" x2="453.6" y2="689.7"/>
<rect x="360" y="689.5" width="56" height="3.6" rx="1.5" fill="#000"/>
<rect class="w" x="352" y="693" width="58" height="5.5"/>
<rect class="w" x="457" y="615.6" width="25" height="86.6" rx="3" stroke-width="2.3"/>
<line class="m" x1="462.6" y1="617" x2="462.6" y2="701" stroke-width="2.2"/>
<line x1="463" y1="627.8" x2="473.8" y2="627.8" stroke="#000" stroke-width="4.2" stroke-linecap="round"/>
<line x1="465" y1="627.8" x2="473.5" y2="627.8" stroke="#fff" stroke-width="0.7" stroke-linecap="round"/>
<line x1="463" y1="658" x2="473.8" y2="658" stroke="#000" stroke-width="4.2" stroke-linecap="round"/>
<line x1="465" y1="658" x2="473.5" y2="658" stroke="#fff" stroke-width="0.7" stroke-linecap="round"/>
<line x1="463" y1="688.2" x2="473.8" y2="688.2" stroke="#000" stroke-width="4.2" stroke-linecap="round"/>
<line x1="465" y1="688.2" x2="473.5" y2="688.2" stroke="#fff" stroke-width="0.7" stroke-linecap="round"/>
<rect class="w" x="304" y="597.5" width="137" height="11.5" rx="2" stroke-width="1.8"/>
<path class="w" d="M332,588 L415.5,588 L415.5,597 L332,597 Z"/>
<path class="w" d="M319,576 Q318,580 329,583 L332,588 L415.5,588 L418,583 Q429,580 428.5,576 Q373,575 319,576 Z"/>
<path class="w" d="M333.5,550 L412.5,550 L412.5,569 L333.5,569 Z" stroke-width="2.2"/>
<rect x="336.7" y="559" width="73" height="6.2" fill="#d4d4d4"/>
<line x1="333.5" y1="555" x2="412.5" y2="555" stroke="#000" stroke-width="2"/>
<line x1="333.5" y1="568.6" x2="412.5" y2="568.6" stroke="#000" stroke-width="2.4"/>
<path d="M313,542 Q373,540 433.5,542 Q431,547 413,550 L333,550 Q315,547 313,542 Z" fill="#fff" stroke="#000" stroke-width="1.5"/>
<path d="M313,542 Q373,540.5 433.5,542" fill="none" stroke="#000" stroke-width="3.4" stroke-linecap="round"/>
<path d="M320,546.5 Q373,545.5 427,546.5" fill="none" stroke="#000" stroke-width="1"/>
</g>
<path d="M389.0,675.3 C407.5,675.3 464.8,675.3 500.0,675.3 C535.2,675.3 580.0,675.5 600.0,675.3 C620.0,675.1 611.3,674.8 620.0,674.0 C628.7,673.2 641.3,672.5 652.0,670.4 C662.7,668.3 673.3,665.2 684.0,661.6 C694.7,658.0 705.3,653.9 716.0,648.8 C726.7,643.7 737.3,637.9 748.0,631.2 C758.7,624.5 771.4,615.7 780.0,608.8 C788.6,601.9 793.2,597.1 799.8,589.6 C806.4,582.1 813.4,573.7 819.7,563.7 C826.0,553.7 833.0,540.4 837.6,529.8 C842.2,519.2 845.1,508.3 847.6,500.0 C850.1,491.7 850.5,490.0 852.5,480.0 C854.5,470.0 856.8,456.2 859.7,440.0 C862.6,423.8 862.4,424.8 869.8,383.0 C877.2,341.2 898.5,221.8 904.3,189.5" fill="none" stroke="#000" stroke-width="10.2" stroke-linecap="butt"/>
<path d="M389.0,675.3 C407.5,675.3 464.8,675.3 500.0,675.3 C535.2,675.3 580.0,675.5 600.0,675.3 C620.0,675.1 611.3,674.8 620.0,674.0 C628.7,673.2 641.3,672.5 652.0,670.4 C662.7,668.3 673.3,665.2 684.0,661.6 C694.7,658.0 705.3,653.9 716.0,648.8 C726.7,643.7 737.3,637.9 748.0,631.2 C758.7,624.5 771.4,615.7 780.0,608.8 C788.6,601.9 793.2,597.1 799.8,589.6 C806.4,582.1 813.4,573.7 819.7,563.7 C826.0,553.7 833.0,540.4 837.6,529.8 C842.2,519.2 845.1,508.3 847.6,500.0 C850.1,491.7 850.5,490.0 852.5,480.0 C854.5,470.0 856.8,456.2 859.7,440.0 C862.6,423.8 862.4,424.8 869.8,383.0 C877.2,341.2 898.5,221.8 904.3,189.5" fill="none" stroke="#525252" stroke-width="5.8" stroke-linecap="butt"/>
<rect x="373.6" y="666.5" width="15.5" height="16" fill="#505050" stroke="#000" stroke-width="2.2"/>
<line x1="369" y1="658.8" x2="620" y2="658.8" stroke="#000" stroke-width="1.1" stroke-dasharray="14 3 3 3"/>
<g id="head">
<path class="w" d="M876,78.7 L910,87 L910.5,89.6 L931,94 L918,174 L903,172 L899,153 C885,150 870,153 858,160 L852,183 L868,57 Z" stroke-width="1.9"/>
<line class="m" x1="910" y1="87" x2="898.8" y2="150"/>
<line class="m" x1="899" y1="149.6" x2="920" y2="149.6"/>
<line x1="933.2" y1="92" x2="919.5" y2="172.5" stroke="#000" stroke-width="5" stroke-linecap="round"/>
<line x1="914" y1="123.2" x2="924" y2="125" stroke="#000" stroke-width="3.6" stroke-linecap="round"/>
<line x1="911.5" y1="139.2" x2="921.5" y2="141" stroke="#000" stroke-width="3.6" stroke-linecap="round"/>
<rect class="w" x="927" y="129" width="6.5" height="13" rx="1" transform="rotate(8 930 135)" stroke-width="1.6"/>
<path class="w" d="M898.5,153 L901.5,153.5 L901.5,158 L897,161 L894.5,172 L899.5,174.5 L903,172" stroke-width="1.9"/>
<circle class="w" cx="907.6" cy="167.8" r="6.2" stroke-width="2.2"/>
<path d="M898.5,177 L913.5,179 L911.5,192.5 L896.3,190.5 Z" fill="#525252" stroke="#000" stroke-width="2"/>
<path class="w" d="M867.8,56.6 L879.2,58.6 L855.8,184 L846.2,182.6 Z" stroke-width="1.9"/>
<path d="M857.5,57.8 L866.2,59.4 L856.8,109.5 L850.6,108.4 Z" fill="#444" stroke="#000" stroke-width="1.6"/>
<path d="M848,129.4 L855,130.6 L846.6,177.8 L839.4,176.2 Z" fill="#444" stroke="#000" stroke-width="1.6"/>
<path d="M852.5,108.6 L856.8,109.4 L853.5,130.4 L849.5,129.6 Z" fill="#000"/>
<line x1="862" y1="60" x2="853.5" y2="108" stroke="#000" stroke-width="1"/>
<line x1="851.5" y1="131" x2="843" y2="176" stroke="#000" stroke-width="1"/>
<path d="M831.4,54 L856.6,54.9 L851,108.2 L848.2,129.6 L838.9,174.5 L832.3,179.1 L810.9,170.7 C806.5,150 808,105 831.4,54 Z" fill="#fff" stroke="#000" stroke-width="2" stroke-linejoin="round"/>
<path d="M829,60 C813,95 808.5,140 813,168" fill="none" stroke="#000" stroke-width="1"/>
<polygon points="831.7,55.1 856.0,56.0 852.3,79.1 828.0,71.6" fill="#d2d2d2" stroke="#000" stroke-width="1.8" stroke-linejoin="round"/>
<polygon points="827.1,75.6 851.3,81.2 850.4,91.2 824.3,92.2" fill="#d2d2d2" stroke="#000" stroke-width="1.8" stroke-linejoin="round"/>
<polygon points="823.3,95.2 849.5,94.3 845.7,115.5 818.7,117.4" fill="#d2d2d2" stroke="#000" stroke-width="1.8" stroke-linejoin="round"/>
<polygon points="817.7,119.5 844.8,118.6 841.1,142.6 815.9,132.7" fill="#d2d2d2" stroke="#000" stroke-width="1.8" stroke-linejoin="round"/>
<polygon points="814.9,134.8 840.1,145.6 839.2,152.8 812.1,151.9" fill="#d2d2d2" stroke="#000" stroke-width="1.8" stroke-linejoin="round"/>
<polygon points="812.1,154.0 838.3,155.0 833.6,177.1 810.3,170.6" fill="#d2d2d2" stroke="#000" stroke-width="1.8" stroke-linejoin="round"/>
<path d="M851,110 L849,128" stroke="#fff" stroke-width="1.6" fill="none"/>
</g>
<line x1="892" y1="116" x2="833" y2="417" stroke="#000" stroke-width="1.1" stroke-dasharray="14 3 3 3"/>
<line x1="785" y1="118.3" x2="850" y2="118.3" stroke="#000" stroke-width="1.2" stroke-dasharray="29 4" stroke-dashoffset="13"/>
<line x1="785" y1="106" x2="1000" y2="150.5" stroke="#000" stroke-width="1.2" stroke-dasharray="22 5"/>
<g id="plug">
<rect x="367" y="376" width="13.4" height="43" fill="#fff" stroke="#000" stroke-width="2.8"/>
<line x1="371.4" y1="377" x2="371.4" y2="418" stroke="#000" stroke-width="2"/><line x1="376" y1="377" x2="376" y2="418" stroke="#000" stroke-width="2"/>
<rect x="365" y="418.5" width="17" height="8" rx="1.5" fill="#000"/>
<rect x="368.4" y="426" width="10.8" height="19" fill="#fff" stroke="#000" stroke-width="2.6"/>
<line x1="372" y1="427" x2="372" y2="444" stroke="#000" stroke-width="1.6"/><line x1="375.6" y1="427" x2="375.6" y2="444" stroke="#000" stroke-width="1.6"/>
<rect x="366.3" y="445" width="14.6" height="5" rx="2.2" fill="#fff" stroke="#000" stroke-width="2.2"/>
<rect x="363" y="462" width="21" height="50.5" rx="2.5" fill="#000"/>
<rect x="366" y="466.2" width="6" height="2.3" fill="#fff"/><rect x="375.2" y="466.2" width="6" height="2.3" fill="#fff"/>
<rect x="366" y="470.8" width="6" height="2.3" fill="#fff"/><rect x="375.2" y="470.8" width="6" height="2.3" fill="#fff"/>
<rect x="366" y="475.3" width="6" height="2.3" fill="#fff"/><rect x="375.2" y="475.3" width="6" height="2.3" fill="#fff"/>
<rect x="366" y="479.8" width="6" height="2.3" fill="#fff"/><rect x="375.2" y="479.8" width="6" height="2.3" fill="#fff"/>
<rect x="366" y="484.4" width="6" height="2.3" fill="#fff"/><rect x="375.2" y="484.4" width="6" height="2.3" fill="#fff"/>
<rect x="366" y="488.9" width="6" height="2.3" fill="#fff"/><rect x="375.2" y="488.9" width="6" height="2.3" fill="#fff"/>
<rect x="366" y="493.5" width="6" height="2.3" fill="#fff"/><rect x="375.2" y="493.5" width="6" height="2.3" fill="#fff"/>
<rect x="366" y="498.1" width="6" height="2.3" fill="#fff"/><rect x="375.2" y="498.1" width="6" height="2.3" fill="#fff"/>
<rect x="366" y="502.6" width="6" height="2.3" fill="#fff"/><rect x="375.2" y="502.6" width="6" height="2.3" fill="#fff"/>
<rect x="366" y="507.1" width="6" height="2.3" fill="#fff"/><rect x="375.2" y="507.1" width="6" height="2.3" fill="#fff"/>
<rect x="361.6" y="455.3" width="23.6" height="8.4" rx="2.5" fill="#fff" stroke="#000" stroke-width="2.4"/>
<path d="M364.5,459 Q368,462.5 372,459.5 M375.5,459.5 Q379,462.5 382.5,459" fill="none" stroke="#000" stroke-width="1.4"/>
<path d="M340,359.5 Q373,357 406,359.5 Q409.5,362.5 406,366 L340,366 Q336.5,362.5 340,359.5 Z" fill="#000"/>
<rect x="346" y="365.5" width="54" height="5" fill="#606060"/>
<path d="M340,370 L406,370 Q409.5,373 406,376.5 L340,376.5 Q336.5,373 340,370 Z" fill="#000"/>
</g>
<line x1="373.6" y1="350" x2="373.6" y2="776" stroke="#000" stroke-width="1.1" stroke-dasharray="16 3 3 3"/>
<line class="t" stroke-width="1.1" x1="34.2" y1="557" x2="59.5" y2="781"/>
<polygon points="46.1,662.5 40.9,650.0 48.4,649.2" fill="#000"/>
<polygon points="55.3,744.0 60.5,756.5 53.0,757.3" fill="#000"/>
<line class="t" stroke-width="1.1" x1="103.4" y1="551.7" x2="129.8" y2="776"/>
<polygon points="116.6,664.0 111.3,651.5 118.9,650.6" fill="#000"/>
<polygon points="124.2,728.5 129.5,741.0 121.9,741.9" fill="#000"/>
<line class="t" x1="239" y1="757" x2="371" y2="757"/>
<polygon points="239.5,757.0 251.5,753.2 251.5,760.8" fill="#000"/>
<polygon points="371.0,757.0 359.0,760.8 359.0,753.2" fill="#000"/>
<line x1="239" y1="677" x2="239" y2="768" stroke="#000" stroke-width="1.1" stroke-dasharray="10 3 2 3"/>
<line class="t" x1="385" y1="770.5" x2="430" y2="770.5"/>
<polygon points="379.5,770.5 388.5,767.5 388.5,773.5" fill="#000"/>
<g id="text" opacity="0.999">
<text x="66.5" y="399" font-size="52">H</text>
<text x="106" y="399" font-size="30" textLength="59" lengthAdjust="spacingAndGlyphs">MAX</text>
<text x="86.5" y="439" font-size="36" font-weight="bold" textLength="58.5" lengthAdjust="spacingAndGlyphs">370</text>
<text x="344" y="333.7" font-size="38.5" textLength="67" lengthAdjust="spacingAndGlyphs">Ø45</text>
<text x="470" y="509.6" font-size="38.5" textLength="67" lengthAdjust="spacingAndGlyphs">Ø70</text>
<text x="290" y="752.5" font-size="37.5" textLength="40" lengthAdjust="spacingAndGlyphs">90</text>
<text x="856.5" y="743" font-size="47">L</text>
<text x="844" y="781" font-size="36" font-weight="bold" textLength="58.5" lengthAdjust="spacingAndGlyphs">570</text>
<text transform="translate(166.3,661) rotate(-90)" font-size="37.5" textLength="61" lengthAdjust="spacingAndGlyphs">120</text>
<text transform="translate(35.5,623) rotate(-97)" font-size="38" textLength="67" lengthAdjust="spacingAndGlyphs">Ø50</text>
<text transform="translate(104.5,623) rotate(-97)" font-size="38" textLength="67" lengthAdjust="spacingAndGlyphs">Ø40</text>
<text transform="translate(842,0) rotate(12.6)" font-size="36" dy="28" textLength="32" lengthAdjust="spacingAndGlyphs">18</text>
<text transform="translate(732,121.5) rotate(-78)" font-size="38" textLength="69" lengthAdjust="spacingAndGlyphs">Ø75</text>
</g>
</svg></body></html>
